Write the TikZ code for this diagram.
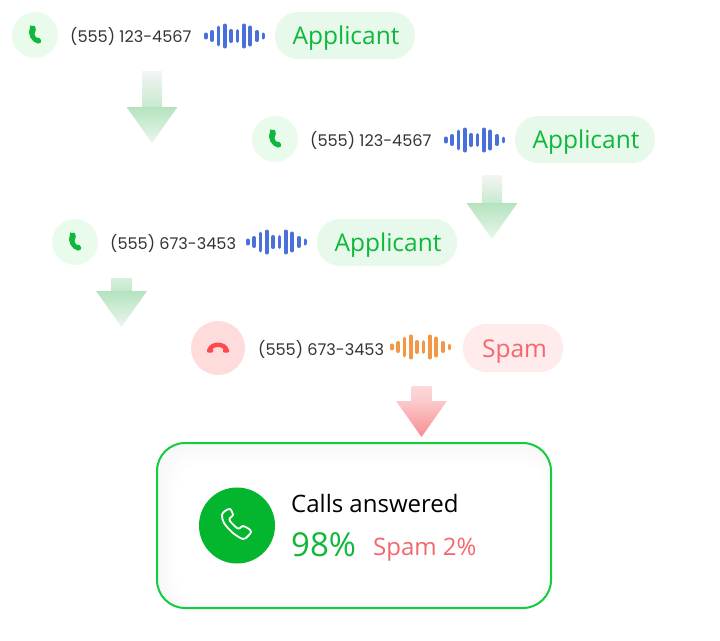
\documentclass[tikz,border=0pt]{standalone}
\usepackage{fontspec}
\setmainfont{Open Sans}
\newfontfamily\numfont{Poppins}
\usetikzlibrary{calc,shadings}
\definecolor{CallGreen}{HTML}{0FB83A}
\definecolor{CardGreen}{HTML}{04B52E}
\definecolor{EdgeGreen}{HTML}{14CC40}
\definecolor{RingGreen}{HTML}{E9FCEB}
\definecolor{PillGreen}{HTML}{E6F9EA}
\definecolor{ArrowGreen}{HTML}{B5E3BF}
\definecolor{ArrowFade}{HTML}{F3F5F4}
\definecolor{SpamRed}{HTML}{F4676C}
\definecolor{RingRed}{HTML}{FFDCDC}
\definecolor{PillRed}{HTML}{FFEBEB}
\definecolor{HangRed}{HTML}{FF4A4C}
\definecolor{WaveBlue}{HTML}{4A70DC}
\definecolor{WaveOrange}{HTML}{F29745}
\definecolor{NumGrey}{HTML}{333333}
\tikzset{
    ring/.style = {circle, inner sep=0pt, minimum size=46pt, fill=RingGreen},
    number/.style = {anchor=base west, inner sep=0pt, text=NumGrey, font=\numfont\fontsize{16.1}{18}\selectfont},
    pill/.style = {rectangle, inner sep=0pt, minimum width=140pt, minimum height=47pt,
        rounded corners=23pt, fill=PillGreen},
    pilltext/.style = {anchor=base, inner sep=0pt, text=CallGreen, font=\fontsize{24.5}{28}\selectfont},
    bar/.style = {line width=3.6pt, line cap=round}
}
% one sound wave, left bar at (#1,#2)
\newcommand{\soundwave}[3]{
    \foreach \dx/\h in {0/3.5,6.4/6,12.7/10.5,19/12.5,25.3/7,31.7/7,38/12.5,44.4/10.5,51/6,57.6/3.5}
        \draw[bar,color=#3] (#1+\dx,#2-\h+1.8) -- (#1+\dx,#2+\h-1.8);
}
% green receiver, centred on (#1,#2)
\newcommand{\greenphone}[2]{
    \fill[color=CallGreen,rounded corners=1.2pt] (#1-4.6,#2-8.6) -- (#1,#2-9.6) -- (#1+1,#2-3.8) -- (#1-.8,#2-2.2)
        .. controls (#1,#2+.8) and (#1+.6,#2+2) .. (#1+2.2,#2+3.2) -- (#1+4,#2+2.2) -- (#1+6.8,#2+6.4) -- (#1+4,#2+8.8)
        .. controls (#1-3.4,#2+7.4) and (#1-8,#2-1) .. (#1-4.6,#2-8.6) -- cycle;
}
% arrow with a fading stem: x of the middle, top, neck, tip, four colours
\newcommand{\fadearrow}[8]{
    \shade[top color=#5,bottom color=#6] (#1-10,#2) rectangle (#1+10,#3);
    \shade[top color=#7,bottom color=#8] (#1-25.5,#3) -- (#1+25.5,#3) -- (#1,#4) -- cycle;
}
\begin{document}
\begin{tikzpicture}[x=1pt,y=-1pt]
    \useasboundingbox (0,0) rectangle (720,640);
    % first call
    \node [ring] (ring1) at (35,35) {};
    \greenphone{35}{35}
    \node [number] (num1) at (70,42) {(555) 123-4567};
    \soundwave{205.7}{36}{WaveBlue}
    \node [pill] (pill1) at (345,35.5) {};
    \node [pilltext] (tag1) at (346,44) {Applicant};
    \fadearrow{152}{71}{107}{143}{ArrowFade}{ArrowGreen!75!white}{ArrowGreen}{ArrowGreen!30!white}
    % second call
    \node [ring] (ring2) at (275,139) {};
    \greenphone{275}{139}
    \node [number] (num2) at (310,146) {(555) 123-4567};
    \soundwave{445.7}{140}{WaveBlue}
    \node [pill] (pill2) at (585,139.5) {};
    \node [pilltext] (tag2) at (586,148) {Applicant};
    \fadearrow{492}{175}{203}{239}{ArrowFade}{ArrowGreen!75!white}{ArrowGreen}{ArrowGreen!30!white}
    % third call
    \node [ring] (ring3) at (75,242) {};
    \greenphone{75}{242}
    \node [number] (num3) at (110,249) {(555) 673-3453};
    \soundwave{247.7}{242}{WaveBlue}
    \node [pill] (pill3) at (387,242.5) {};
    \node [pilltext] (tag3) at (388,251) {Applicant};
    \fadearrow{121.5}{278}{291}{327}{ArrowGreen!55!white}{ArrowGreen!80!white}{ArrowGreen}{ArrowGreen!30!white}
    % spam call
    \node [ring,minimum size=54pt,fill=RingRed] (ring4) at (218,348) {};
    \draw [color=HangRed,line width=4.4pt] (209.5,350) .. controls (211.5,343) and (224.5,343) .. (226.5,350);
    \fill [color=HangRed,rounded corners=1pt] (207,348.5) rectangle (213,352.5);
    \fill [color=HangRed,rounded corners=1pt] (223,348.5) rectangle (229,352.5);
    \node [number] (num4) at (258,355) {(555) 673-3453};
    \soundwave{391.7}{347}{WaveOrange}
    \node [pill,minimum width=100pt,minimum height=48pt,fill=PillRed] (pill4) at (513,348) {};
    \node [pilltext,text=SpamRed] (tag4) at (514.5,357) {Spam};
    \fadearrow{421.5}{386}{401}{437}{SpamRed!25!white}{SpamRed!35!white}{SpamRed!35!white}{SpamRed!75!white}
    % result card
    \foreach \i in {0,...,10}
        \pgfmathsetmacro{\tone}{\i*10}
        \fill [color=white!\tone!black!3!white,rounded corners=28pt] (157+2*\i,443+2*\i) rectangle (551-.5*\i,608-.5*\i);
    \draw [color=EdgeGreen,line width=2pt,rounded corners=28pt] (157,443) rectangle (551,608);
    \node [circle,inner sep=0pt,minimum size=76pt,fill=CardGreen] (ball) at (237,525.5) {};
    \draw [color=white,line width=1.8pt] plot [smooth cycle,tension=.55] coordinates {
        (230,509) (225,511) (222,515) (224,523) (233,533) (243,539) (248,536) (251,532) (249,529) (243,526) (240,528) (237,528) (230,521) (230,518) (233,515)};
    \node [anchor=base west,inner sep=0pt,font=\fontsize{24}{28}\selectfont] (calls) at (291,512) {Calls answered};
    \node [anchor=base west,inner sep=0pt,text=CallGreen,font=\fontsize{33}{38}\selectfont] (rate) at (291,556) {98\%};
    \node [anchor=base west,inner sep=0pt,text=SpamRed,font=\fontsize{24}{28}\selectfont] (spam) at (373,555) {Spam 2\%};
\end{tikzpicture}
\end{document}
